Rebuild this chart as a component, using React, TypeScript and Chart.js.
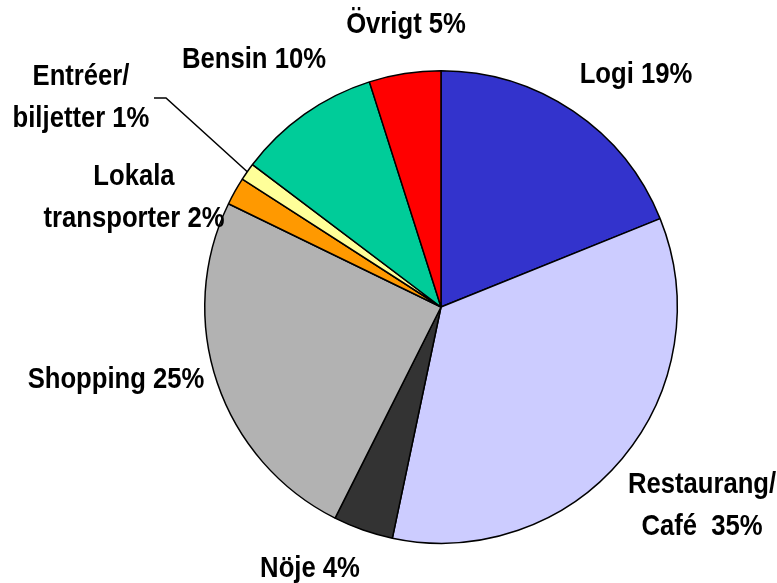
import React, { useEffect, useRef } from "react";
import { Chart, registerables } from "chart.js";

Chart.register(...registerables);

const categories = [
  "Logi",
  "Restaurang/Café",
  "Nöje",
  "Shopping",
  "Lokala transporter",
  "Entréer/biljetter",
  "Bensin",
  "Övrigt",
];
const values = [18.9, 34.4, 4.1, 24.8, 1.9, 1.2, 9.8, 4.9];
const labelLines = [
  ["Logi 19%"],
  ["Restaurang/", "Café  35%"],
  ["Nöje 4%"],
  ["Shopping 25%"],
  ["Lokala", "transporter 2%"],
  ["Entréer/", "biljetter 1%"],
  ["Bensin 10%"],
  ["Övrigt 5%"],
];
const colors = [
  "#3333CC",
  "#CCCCFF",
  "#333333",
  "#B2B2B2",
  "#FF9900",
  "#FFFF99",
  "#00CC99",
  "#FF0000",
];

// label anchor (center x, first baseline y)
const labelPos: [number, number][] = [
  [636, 83],
  [702, 493],
  [310, 577],
  [116, 388],
  [134, 185],
  [81, 85],
  [254, 68],
  [406, 33],
];
const LINE_H = 42;
const FONT = "bold 30px 'Liberation Sans', Arial, sans-serif";
const SCALE_X = 0.855;

const labelPlugin = {
  id: "pieLabels",
  afterDatasetsDraw(chart: any) {
    const ctx = chart.ctx as CanvasRenderingContext2D;
    ctx.save();
    ctx.fillStyle = "#000";
    ctx.font = FONT;
    ctx.textAlign = "center";
    ctx.textBaseline = "alphabetic";
    labelLines.forEach((lines, i) => {
      const [x, y] = labelPos[i];
      lines.forEach((t, j) => {
        ctx.save();
        ctx.translate(x, y + j * LINE_H);
        ctx.scale(SCALE_X, 1);
        ctx.fillText(t, 0, 0);
        ctx.restore();
      });
    });
    // leader line for Entréer/biljetter
    const meta = chart.getDatasetMeta(0);
    const arc = meta.data[5] as any;
    const { x, y, startAngle, endAngle, outerRadius } = arc.getProps(
      ["x", "y", "startAngle", "endAngle", "outerRadius"],
      true
    );
    const mid = (startAngle + endAngle) / 2;
    const ex = x + Math.cos(mid) * outerRadius;
    const ey = y + Math.sin(mid) * outerRadius;
    ctx.strokeStyle = "#000";
    ctx.lineWidth = 1.5;
    ctx.beginPath();
    ctx.moveTo(154, 98);
    ctx.lineTo(166, 98);
    ctx.lineTo(ex, ey);
    ctx.stroke();
    ctx.restore();
  },
};

export default function App() {
  const ref = useRef<HTMLCanvasElement>(null);
  useEffect(() => {
    document.body.style.margin = "0";
    const chart = new Chart(ref.current!, {
      type: "pie",
      data: {
        labels: categories,
        datasets: [
          {
            data: values,
            backgroundColor: colors,
            borderColor: "#000",
            borderWidth: 1.5,
          },
        ],
      },
      options: {
        responsive: false,
        animation: false,
        devicePixelRatio: 1,
        layout: { padding: { left: 204, top: 70, right: 99, bottom: 39 } },
        plugins: {
          legend: { display: false },
          tooltip: { enabled: false },
        },
      },
      plugins: [labelPlugin],
    });
    return () => chart.destroy();
  }, []);
  return (
    <div style={{ position: "absolute", left: 0, top: 0, width: 777, height: 583, background: "#fff" }}>
      <canvas ref={ref} width={777} height={583} style={{ display: "block" }} />
    </div>
  );
}
